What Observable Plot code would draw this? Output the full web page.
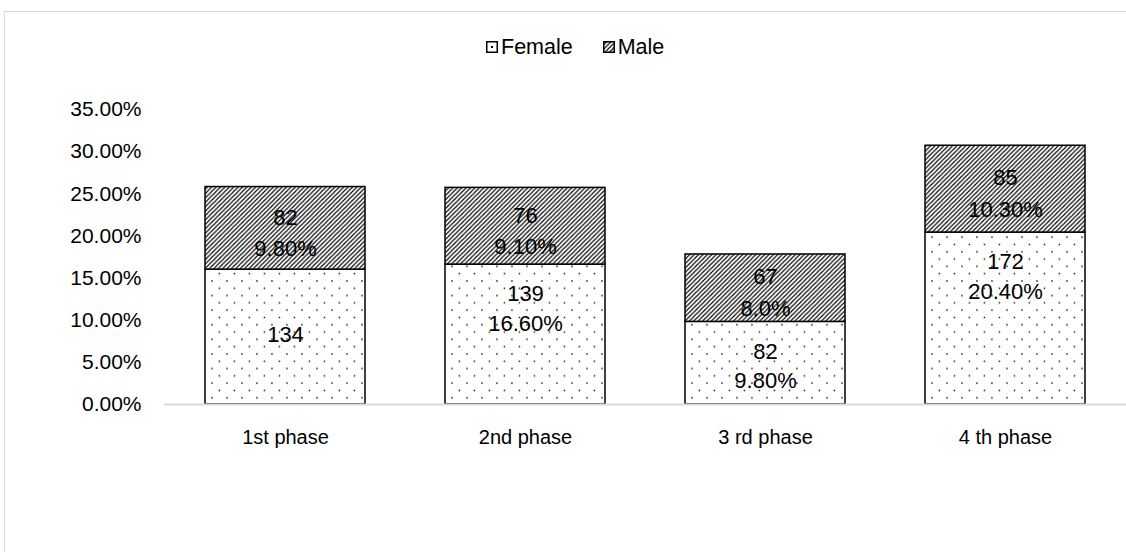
<!DOCTYPE html>
<html>
<head>
<meta charset="utf-8">
<script src="https://cdn.jsdelivr.net/npm/d3@7"></script>
<script src="https://cdn.jsdelivr.net/npm/@observablehq/plot@0.6"></script>
<style>
  html, body { margin: 0; padding: 0; background: #fff; }
  body { width: 1126px; height: 552px; position: relative; overflow: hidden;
         font-family: "Liberation Sans", Arial, sans-serif; color: #000; }
  #frame { position: absolute; left: 4px; top: 11px; width: 1140px; height: 560px;
           border-left: 1px solid #d9d9d9; border-top: 1px solid #d9d9d9; box-sizing: border-box; }
  #legend { position: absolute; left: 486px; top: 34px; height: 26px; display: flex; align-items: center;
            font-size: 21.5px; line-height: 26px; white-space: nowrap; }
  #legend .item { display: flex; align-items: center; margin-right: 30px; }
  #legend svg { margin-right: 3px; display: block; }
  #chart { position: absolute; left: 0; top: 60px; }
</style>
</head>
<body>
<svg width="0" height="0" style="position:absolute">
  <defs>
    <pattern id="dots" patternUnits="userSpaceOnUse" width="15" height="14.6">
      <rect width="15" height="14.6" fill="#fff"></rect>
      <rect x="1.2" y="1.2" width="1.5" height="1.5" fill="#222"></rect>
      <rect x="8.7" y="8.5" width="1.5" height="1.5" fill="#222"></rect>
    </pattern>
    <pattern id="hatch" patternUnits="userSpaceOnUse" width="4.4" height="4.4">
      <rect width="4.4" height="4.4" fill="#fff"></rect>
      <path d="M-1.1,1.1 L1.1,-1.1 M0,4.4 L4.4,0 M3.3,5.5 L5.5,3.3" stroke="#000" stroke-width="1.15"></path>
    </pattern>
  </defs>
</svg>
<div id="frame"></div>
<div id="legend"></div>
<div id="chart"></div>
<script>
// ---- data ----
const phases = ["1st phase", "2nd phase", "3 rd phase", "4 th phase"];
const femaleCounts = [134, 139, 82, 172];
const femalePct = [16.0, 16.6, 9.8, 20.4];
const femalePctText = ["", "16.60%", "9.80%", "20.40%"];
const maleCounts = [82, 76, 67, 85];
const malePct = [9.8, 9.1, 8.0, 10.3];
const malePctText = ["9.80%", "9.10%", "8.0%", "10.30%"];
const yTicks = [0, 5, 10, 15, 20, 25, 30, 35];
const seriesNames = ["Female", "Male"];
// Excel data-label position setting for the Female labels
const femaleLabelPosition = ["center", "insideEnd", "insideEnd", "insideEnd"];

const rows = phases.map((p, i) => ({
  phase: p,
  f: femalePct[i],
  total: femalePct[i] + malePct[i],
  fText: femalePctText[i] ? `${femaleCounts[i]}\n${femalePctText[i]}` : `${femaleCounts[i]}`,
  mText: `${maleCounts[i]}\n${malePctText[i]}`,
  fPos: femaleLabelPosition[i]
}));

// ---- legend ----
const legend = document.getElementById("legend");
const fills = ["url(#dots)", "url(#hatch)"];
seriesNames.forEach((name, i) => {
  const item = document.createElement("div");
  item.className = "item";
  const sw = i === 0
    ? `<svg width="12" height="12"><rect x="0.75" y="0.75" width="10.5" height="10.5" fill="#fff" stroke="#000" stroke-width="1.5"/><rect x="5" y="5" width="2" height="2" fill="#000"/></svg>`
    : `<svg width="12" height="12"><rect x="0.75" y="0.75" width="10.5" height="10.5" fill="${fills[1]}" stroke="#000" stroke-width="1.5"/></svg>`;
  item.innerHTML = sw + `<span>${name}</span>`;
  legend.appendChild(item);
});

// ---- chart ----
const labelFont = 22;
const chart = Plot.plot({
  width: 1126,
  height: 440,
  marginTop: 49,
  marginBottom: 96,
  marginLeft: 164,
  marginRight: 0,
  style: { fontFamily: "'Liberation Sans', Arial, sans-serif", color: "#000", background: "transparent", overflow: "visible" },
  x: { domain: phases, paddingInner: 0.335, paddingOuter: 0.1675 },
  y: { domain: [0, 35] },
  marks: [
    Plot.barY(rows, { x: "phase", y1: 0, y2: "f", fill: "url(#dots)", stroke: "#000", strokeWidth: 1.5 }),
    Plot.barY(rows, { x: "phase", y1: "f", y2: "total", fill: "url(#hatch)", stroke: "#000", strokeWidth: 1.5 }),
    Plot.ruleY([0], { stroke: "#d9d9d9", strokeWidth: 2 }),
    Plot.axisY({ ticks: yTicks, tickFormat: d => d.toFixed(2) + "%", tickSize: 0, tickPadding: 23, fontSize: 21, label: null }),
    Plot.axisX({ tickSize: 0, tickPadding: 25, fontSize: 20, label: null }),
    Plot.text(rows, { x: "phase", y: d => (d.f + d.total) / 2, text: "mText", fontSize: labelFont, lineHeight: 1.45, dy: 2, fill: "#000" }),
    Plot.text(rows.filter(d => d.fPos === "insideEnd"), { x: "phase", y: "f", text: "fText", fontSize: labelFont, lineHeight: 1.36, dy: 42, fill: "#000", ariaLabel: "female-labels" }),
    Plot.text(rows.filter(d => d.fPos === "center"), { x: "phase", y: d => d.f / 2, text: "fText", fontSize: labelFont, lineHeight: 1.36, dy: -5, fill: "#000", ariaLabel: "female-labels" })
  ]
});
document.getElementById("chart").appendChild(chart);

// white label boxes behind the Female data labels (as in the source chart)
d3.select(chart).selectAll('g[aria-label="female-labels"] text').each(function () {
  const bb = this.getBBox();
  const w = Math.max(bb.width + 20, 96);
  const cx = bb.x + bb.width / 2;
  const r = document.createElementNS("http://www.w3.org/2000/svg", "rect");
  r.setAttribute("x", cx - w / 2);
  r.setAttribute("y", bb.y - 5);
  r.setAttribute("width", w);
  r.setAttribute("height", bb.height + 10);
  r.setAttribute("fill", "#fff");
  const t = this.getAttribute("transform");
  if (t) r.setAttribute("transform", t);
  this.parentNode.insertBefore(r, this);
});
</script>
</body>
</html>
